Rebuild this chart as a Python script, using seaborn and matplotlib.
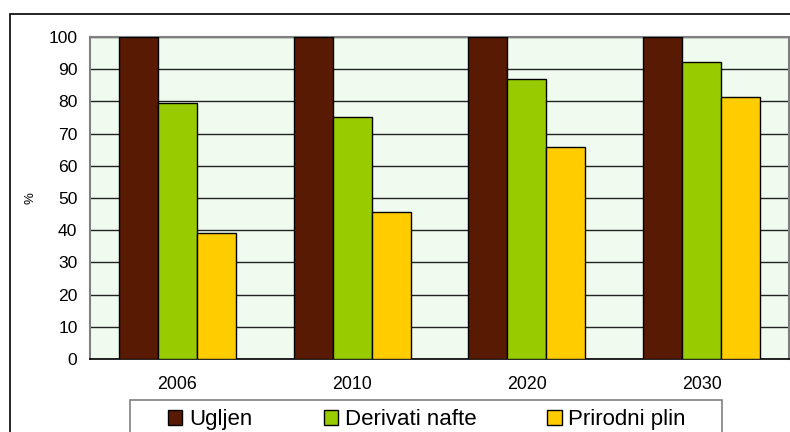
import matplotlib
matplotlib.use("Agg")
import matplotlib.pyplot as plt
import seaborn as sns
import pandas as pd
from matplotlib.patches import Rectangle

years = ["2006", "2010", "2020", "2030"]
series = ["Ugljen", "Derivati nafte", "Prirodni plin"]
ugljen = [100, 100, 100, 100]
derivati_nafte = [79.5, 75.0, 87.0, 92.3]
prirodni_plin = [39.0, 45.5, 65.8, 81.3]
yticks = list(range(0, 101, 10))
colors = ["#581a02", "#99cc00", "#ffcc00"]

rows = []
for name, vals in zip(series, [ugljen, derivati_nafte, prirodni_plin]):
    for y, v in zip(years, vals):
        rows.append({"year": y, "fuel": name, "val": v})
df = pd.DataFrame(rows)

sns.set_style("white")
plt.rcParams["font.family"] = ["Liberation Sans", "DejaVu Sans"]
plt.rcParams["text.color"] = "black"
plt.rcParams["xtick.color"] = "black"
plt.rcParams["ytick.color"] = "black"
plt.rcParams["axes.labelcolor"] = "black"

W, H = 790, 432
fig = plt.figure(figsize=(W / 100, H / 100), dpi=100)
fig.patch.set_facecolor("white")

# outer chart border
fig.add_artist(Rectangle((10 / W, -0.2), 1.2, 1.2 - 14 / H,
                         transform=fig.transFigure, fill=False,
                         edgecolor="black", linewidth=1.2, clip_on=False))

left, right, top, bottom = 90, 789, 37, 359
ax = fig.add_axes([left / W, 1 - bottom / H, (right - left) / W, (bottom - top) / H])
ax.set_facecolor("#eefbee")

sns.barplot(data=df, x="year", y="val", hue="fuel", palette=colors,
            width=0.67, gap=0, edgecolor="black", linewidth=1.0,
            saturation=1, ax=ax, legend=True, zorder=3)

ax.set_ylim(0, 100)
ax.set_xlim(-0.5, 3.5)
ax.set_yticks(yticks)
ax.set_yticklabels([str(t) for t in yticks], fontsize=12.6)
ax.yaxis.grid(True, color="#222222", linewidth=1.0, zorder=1)
ax.set_axisbelow(True)
ax.tick_params(axis="y", direction="out", length=5, width=1, color="#808080", pad=4)
ax.set_xticks(range(len(years)))
ax.set_xticklabels(years, fontsize=12.8)
ax.set_xticks([-0.5, 0.5, 1.5, 2.5, 3.5], minor=True)
ax.tick_params(axis="x", which="major", length=0, pad=12)
ax.tick_params(axis="x", which="minor", direction="out", length=6, width=1, color="#808080")
ax.set_xlabel("")
ax.set_ylabel("%", fontsize=9.5)
ax.yaxis.set_label_coords((37 - left) / (right - left), 0.5)
for s in ["left", "top", "right"]:
    ax.spines[s].set_visible(True)
    ax.spines[s].set_color("#808080")
    ax.spines[s].set_linewidth(1.5)
ax.spines["bottom"].set_color("black")
ax.spines["bottom"].set_linewidth(1.2)

handles, labels = ax.get_legend_handles_labels()
ax.get_legend().remove()

# legend box
fig.add_artist(Rectangle((130 / W, -0.2), (722 - 130) / W, 0.2 + 1 - 400 / H,
                         transform=fig.transFigure, facecolor="white",
                         edgecolor="#808080", linewidth=1.2, clip_on=False))
leg = fig.legend(handles, labels, loc="upper center", ncol=3,
                 bbox_to_anchor=(427 / W, 1 - 405 / H),
                 fontsize=16, frameon=False,
                 handlelength=0.65, handleheight=0.65, handletextpad=0.3,
                 borderpad=0.2, borderaxespad=0, columnspacing=3.2)

fig.savefig("out.png", dpi=100, facecolor="white")
